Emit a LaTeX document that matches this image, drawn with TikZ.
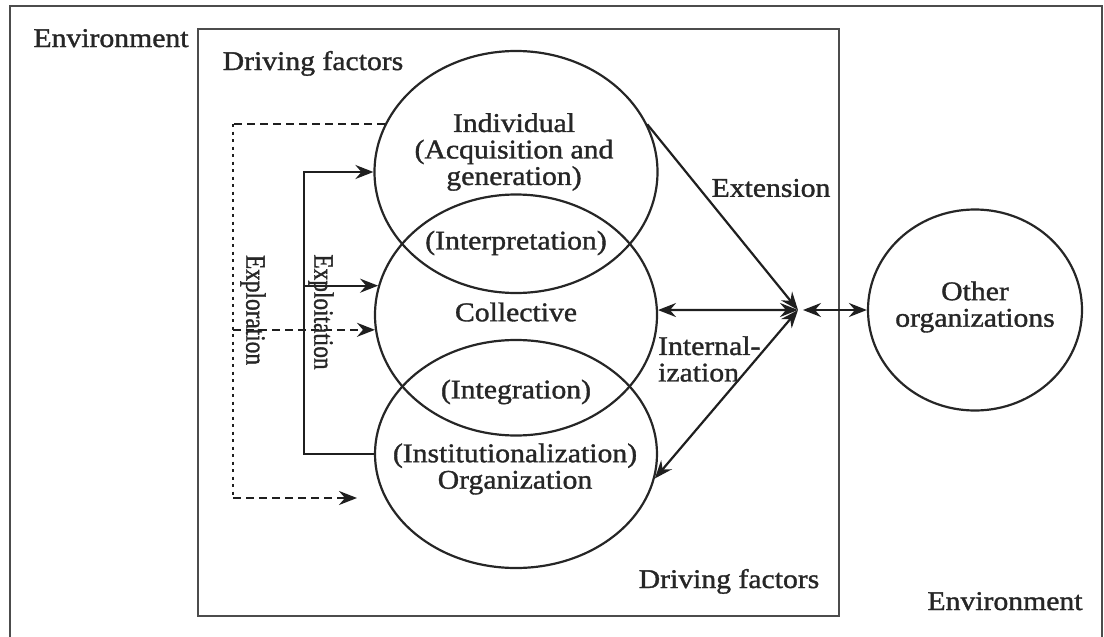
\documentclass[tikz,border=0pt]{standalone}
\usepackage{fontspec}
\setmainfont{Liberation Serif}[FakeStretch=1.1,FakeBold=1.3]
\newfontfamily\rotfont{Liberation Serif}[FakeBold=1.3]
\usetikzlibrary{shapes.geometric,arrows.meta}

\tikzset{
  lbl/.style={font=\fontsize{27pt}{26.5pt}\selectfont, text=black!85, inner sep=0pt, align=center},
  sidelbl/.style={font=\rotfont\fontsize{23.3pt}{24pt}\selectfont, text=black!85, inner sep=0pt, rotate=-90},
  ring/.style={draw=black!85, ellipse, inner sep=0pt, line width=2.2pt},
  frame/.style={draw=black!70, line width=2.6pt},
  conn/.style={draw=black!88, line width=2.2pt},
  tip/.style={-{Stealth[length=18pt,width=14pt,inset=6pt]}},
  dtip/.style={{Stealth[length=18pt,width=14pt,inset=6pt]}-{Stealth[length=18pt,width=14pt,inset=6pt]}},
  hdash/.style={dash pattern=on 8pt off 5pt},
  vdash/.style={dash pattern=on 3pt off 4.5pt},
}

\begin{document}
\begin{tikzpicture}[x=1pt,y=-1pt]
\useasboundingbox (0,0) rectangle (1104,637);

% environment and organisation boundaries
\draw[frame] (10,640) |- (1102,6) -- (1102,640);
\draw[frame] (198,29) rectangle (839,616);

\node[lbl, anchor=base] (envA) at (111,47) {Environment};
\node[lbl, anchor=base] (drvA) at (313,70) {Driving factors};
\node[lbl, anchor=base] (drvB) at (729,588) {Driving factors};
\node[lbl, anchor=base] (envB) at (1005,610) {Environment};

% the three levels of learning
\node[ring, minimum width=283pt, minimum height=242pt] (ind) at (516,172) {};
\node[ring, minimum width=282pt, minimum height=241pt] (col) at (516,315) {};
\node[ring, minimum width=282pt, minimum height=228pt] (org) at (516,454) {};
\node[ring, minimum width=214pt, minimum height=201pt] (oth) at (975,310) {};

\node[lbl] (tInd) at (514,152) {Individual\\(Acquisition and\\generation)};
\node[lbl] (tInt) at (516,243) {(Interpretation)};
\node[lbl] (tCol) at (516,312) {Collective};
\node[lbl] (tIng) at (516,392) {(Integration)};
\node[lbl] (tOrg) at (515,469) {(Institutionalization)\\Organization};
\node[lbl] (tOth) at (975,307) {Other\\organizations};

% exchange with other organisations
\coordinate (hub) at (798,310);
\coordinate (hub2) at (803,310);
\draw[conn, tip] (ind.20) -- (hub);
\draw[conn, dtip] (col.2) -- (hub);
\draw[conn, dtip] (org.-10) -- (hub);
\draw[conn, dtip] (hub2) -- (oth.west);

\node[lbl] (tExt) at (771,188) {Extension};
\node[lbl, anchor=west, align=left] (tIntz) at (658,359) {Internal-\\ization};

% exploitation: feedback from organisation to individual and collective
\coordinate (xe) at (304,0);
\draw[conn, tip] (org.west) -- (xe |- org.west) |- (ind.west);
\draw[conn, tip] (xe |- col.168) -- (col.168);

% exploration: dashed feed-forward
\coordinate (xd) at (233,0);
\coordinate (feedEnd) at (357,498);
\draw[conn, hdash] (ind.160) -- (xd |- ind.160);
\draw[conn, vdash] (xd |- ind.160) -- (xd |- feedEnd);
\draw[conn, hdash, tip] (xd |- feedEnd) -- (feedEnd);
\draw[conn, hdash, tip] (xd |- col.186) -- (col.186);

\node[sidelbl] (tExplr) at (253,310) {\scalebox{1}[1.2]{Exploration}};
\node[sidelbl] (tExplt) at (321,312) {\scalebox{1}[1.2]{Exploitation}};
\end{tikzpicture}
\end{document}
